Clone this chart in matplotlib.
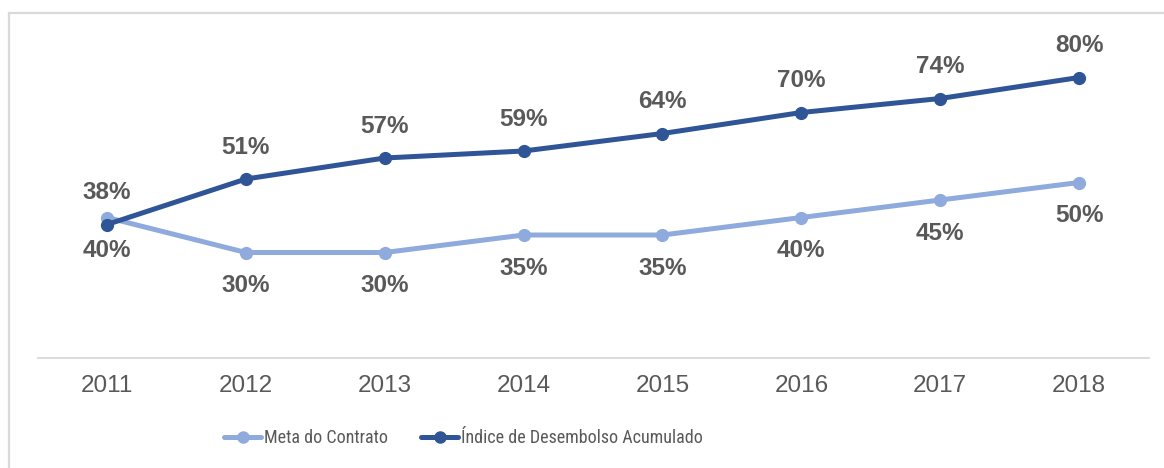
import matplotlib
matplotlib.use("Agg")
import matplotlib.pyplot as plt
from matplotlib.lines import Line2D
from matplotlib import font_manager

years = ["2011", "2012", "2013", "2014", "2015", "2016", "2017", "2018"]
meta = [40, 30, 30, 35, 35, 40, 45, 50]
indice = [38, 51, 57, 59, 64, 70, 74, 80]
meta_name = "Meta do Contrato"
indice_name = "Índice de Desembolso Acumulado"

light = "#8FAADC"
dark = "#2F5597"
txt = "#595959"
grid = "#D9D9D9"

plt.rcParams["font.family"] = ["Liberation Sans", "DejaVu Sans"]

names = {f.name for f in font_manager.fontManager.ttflist}
narrow = None
for cand in ["Liberation Sans Narrow", "Arial Narrow", "Roboto Condensed", "DejaVu Sans Condensed"]:
    if cand in names:
        narrow = cand
        break
if narrow:
    leg_prop = {"family": [narrow, "Liberation Sans"], "size": 13}
else:
    leg_prop = {"family": ["Liberation Sans", "DejaVu Sans"], "size": 12}

fig = plt.figure(figsize=(11.64, 4.68), dpi=100)
ax = fig.add_axes([37.6 / 1164, 1 - 357.5 / 468, 1110.9 / 1164, 350 / 468])

x = list(range(len(years)))
ax.plot(x, meta, color=light, lw=3.6, marker="o", ms=8.5, solid_capstyle="round", zorder=3)
ax.plot(x, indice, color=dark, lw=3.6, marker="o", ms=8.5, solid_capstyle="round", zorder=4)

for xi, v in zip(x, meta):
    ax.annotate(f"{v}%", (xi, v), xytext=(0, -24), textcoords="offset points",
                ha="center", va="center", fontsize=17.5, fontweight="bold", color=txt)
for xi, v in zip(x, indice):
    ax.annotate(f"{v}%", (xi, v), xytext=(0, 23), textcoords="offset points",
                ha="center", va="center", fontsize=17.5, fontweight="bold", color=txt)

ax.set_xlim(-0.5, len(years) - 0.5)
ax.set_ylim(0, 100)
ax.set_xticks(x)
ax.set_xticklabels(years, fontsize=17.5, color=txt)
ax.set_yticks([])
ax.tick_params(axis="x", length=0, pad=12.5)
for s in ["top", "right", "left"]:
    ax.spines[s].set_visible(False)
ax.spines["bottom"].set_color(grid)
ax.spines["bottom"].set_linewidth(1.3)
ax.patch.set_alpha(0)

# outer frame (left and top edges visible)
fig.add_artist(Line2D([8.5 / 1164, 8.5 / 1164], [0, 1 - 13 / 468], transform=fig.transFigure,
                      color=grid, lw=1.6))
fig.add_artist(Line2D([8.5 / 1164, 1], [1 - 13 / 468, 1 - 13 / 468], transform=fig.transFigure,
                      color=grid, lw=1.6))

handles = [Line2D([], [], color=light, lw=3.6, marker="o", ms=8, solid_capstyle="round"),
           Line2D([], [], color=dark, lw=3.6, marker="o", ms=8, solid_capstyle="round")]
fs_px = leg_prop["size"] * 100 / 72
leg = fig.legend(handles, [meta_name, indice_name], loc="center left",
                 bbox_to_anchor=(224 / 1164, 1 - 438 / 468), bbox_transform=fig.transFigure,
                 ncol=2, frameon=False, borderpad=0, borderaxespad=0,
                 handlelength=37 / fs_px, handletextpad=3 / fs_px, columnspacing=33 / fs_px,
                 prop=leg_prop)
for t in leg.get_texts():
    t.set_color(txt)

fig.savefig("out.png", dpi=100)
